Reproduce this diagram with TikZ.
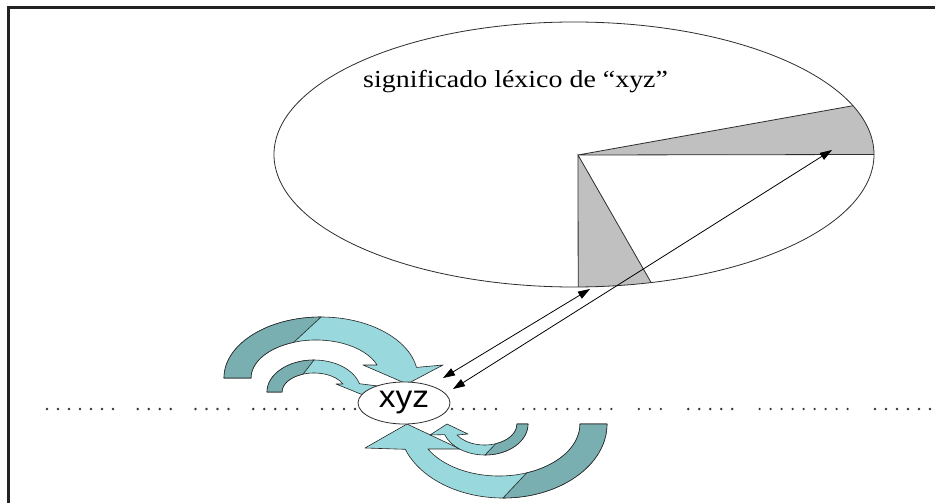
\documentclass[tikz,border=0pt]{standalone}
\usepackage{fontspec}
\setmainfont{Liberation Serif}
\newfontfamily\arialfont{Liberation Sans}
\usetikzlibrary{arrows.meta,shapes.geometric,calc}
\definecolor{tealL}{RGB}{153,216,220}
\definecolor{tealD}{RGB}{122,175,177}
\definecolor{grayF}{RGB}{192,192,192}
\definecolor{frameC}{RGB}{35,35,35}
\definecolor{lineC}{RGB}{45,45,45}
\begin{document}
\begin{tikzpicture}[x=1pt,y=-1pt,
  band/.style={fill=tealL, draw=black!85, line width=0.6pt, line join=round},
  backband/.style={fill=tealD, draw=black!85, line width=0.6pt, line join=round},
  grayreg/.style={fill=grayF},
  geom/.style={draw=lineC, line width=0.8pt},
  dbl/.style={draw=black, line width=0.8pt, {Triangle[length=12pt,width=8pt]}-{Triangle[length=12pt,width=8pt]}},
  dotc/.style={fill=black!80}]
\useasboundingbox (0,0) rectangle (935,503);
\clip (0,0) rectangle (935,503);
\fill[white] (0,0) rectangle (935,503);
\draw[frameC, line width=3pt] (8,520) -- (8,8) -- (950,8);

% big ellipse with gray regions
\coordinate (C) at (574,154.5);
\coordinate (V) at (578,155);
\coordinate (P1) at ($(C)+(-21.6:300 and 132.5)$);
\coordinate (E) at ($(C)+(0:300 and 132.5)$);
\coordinate (B) at ($(C)+(89.2:300 and 132.5)$);
\coordinate (P2) at ($(C)+(75.1:300 and 132.5)$);
\fill[grayreg] (V) -- (P1) arc[start angle=-21.6,end angle=0,x radius=300,y radius=132.5] -- cycle;
\fill[grayreg] (V) -- (B) arc[start angle=89.2,end angle=75.1,x radius=300,y radius=132.5] -- cycle;
\draw[geom] (C) ellipse[x radius=300, y radius=132.5];
\draw[geom] (P1) -- (V) -- (E);
\draw[geom] (B) -- (V) -- (P2);

\node[anchor=base west, inner sep=0pt] (lab) at (363,88)
  {\fontsize{24.5}{29}\selectfont\scalebox{1.14}[1]{significado léxico de “xyz”}};

% upper big curved arrow
\path[band] (224,378) arc[start angle=180,end angle=350,x radius=97,y radius=61]
  -- (443,365) -- (407,384) -- (363,365)
  -- ($(316,378)+(340:65 and 38)$) arc[start angle=340,end angle=180,x radius=65,y radius=38] -- cycle;
\path[backband] (224,378) arc[start angle=180,end angle=270,x radius=97,y radius=61]
  -- ($(316,378)+(250:65 and 38)$) arc[start angle=250,end angle=180,x radius=65,y radius=38] -- cycle;
% upper small curved arrow
\path[band] (267,392) arc[start angle=180,end angle=345,x radius=47,y radius=32]
  -- (378,386) -- (368,397) -- (336,384)
  -- ($(314,392)+(335:32 and 19)$) arc[start angle=335,end angle=180,x radius=32,y radius=19] -- cycle;
\path[backband] (267,392) arc[start angle=180,end angle=270,x radius=47,y radius=32]
  -- ($(314,392)+(250:32 and 19)$) arc[start angle=250,end angle=180,x radius=32,y radius=19] -- cycle;
% lower big curved arrow
\path[band] (607,424) arc[start angle=0,end angle=160,x radius=104,y radius=74]
  -- (365,448) -- (407,424) -- (460,449)
  -- ($(499,424)+(151.3:81 and 52)$) arc[start angle=151.3,end angle=0,x radius=81,y radius=52] -- cycle;
\path[backband] (607,424) arc[start angle=0,end angle=90,x radius=104,y radius=74]
  -- ($(499,424)+(70:81 and 52)$) arc[start angle=70,end angle=0,x radius=81,y radius=52] -- cycle;
% lower small curved arrow
\path[band] (528,424) arc[start angle=0,end angle=160,x radius=43,y radius=31]
  -- (430,435) -- (447,424) -- (468,434)
  -- ($(484.6,424)+(148.4:32.4 and 21)$) arc[start angle=148.4,end angle=0,x radius=32.4,y radius=21] -- cycle;
\path[backband] (528,424) arc[start angle=0,end angle=90,x radius=43,y radius=31]
  -- ($(484.6,424)+(70:32.4 and 21)$) arc[start angle=70,end angle=0,x radius=32.4,y radius=21] -- cycle;

% dotted line
\foreach \s/\n in {47/7,137.75/4,195.5/4,253.25/5,322/4,452/5,523.4/9,638.8/3,688.2/5,759.6/9,875/6}{
  \foreach \i in {1,...,\n}{
    \fill[dotc] ({\s+11*(\i-1)},409) circle[radius=1.3pt];
  }
}

\node[ellipse, draw=lineC, line width=0.8pt, fill=white, minimum width=92pt, minimum height=42pt, inner sep=0pt] (xyz) at (404,403)
  {\arialfont\fontsize{31}{33}\selectfont\scalebox{1.08}[1]{xyz}};

\coordinate (a1) at (590,289); \coordinate (a2) at (443,378);
\coordinate (b1) at (832,150); \coordinate (b2) at (453,389);
\draw[dbl] (a1) -- (a2);
\draw[dbl] (b1) -- (b2);
\end{tikzpicture}
\end{document}
